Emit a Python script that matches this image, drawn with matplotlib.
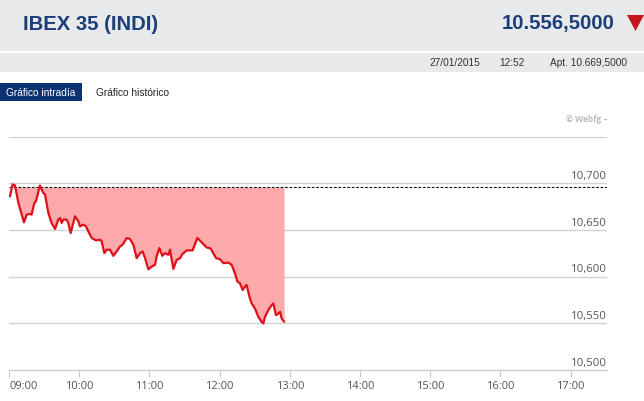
import matplotlib
matplotlib.use("Agg")
import matplotlib.pyplot as plt
import matplotlib.transforms as mtransforms
from matplotlib.patches import Rectangle, Polygon

# header data
title = "IBEX 35 (INDI)"
last_price = "10.556,5000"
date_str = "27/01/2015"
time_str = "12:52"
open_str = "Apt. 10.669,5000"

# intraday series: minutes after 09:00 and index level
minutes = [0.85, 3.1, 5.1, 8.0, 12.8, 15.1, 17.9, 19.3, 21.7, 23.1,
           26.4, 29.3, 30.8, 33.6, 36.4, 39.4, 42.1, 43.6, 45.0, 46.4,
           49.2, 50.7, 52.7, 56.4, 59.3, 60.7, 63.6, 65.8, 67.8, 70.7,
           74.4, 77.8, 79.2, 81.5, 83.5, 86.4, 89.2, 92.0, 94.9, 97.1,
           100.6, 103.4, 106.3, 109.1, 112.0, 114.2, 116.3, 119.1, 122.0, 124.8,
           126.2, 128.5, 131.0, 133.3, 136.2, 137.6, 140.5, 143.3, 146.2, 148.4,
           151.9, 156.9, 161.0, 164.7, 168.9, 172.4, 174.6, 177.0, 180.3, 183.2,
           187.5, 190.3, 193.1, 195.2, 197.4, 199.7, 201.7, 203.1, 205.5, 207.4,
           210.2, 213.1, 215.9, 217.4, 218.8, 221.6, 224.5, 225.9, 228.2, 230.2,
           231.7, 233.0, 235.1]
levels = [10686.4, 10699.0, 10697.8, 10679.2, 10658.3, 10666.6, 10667.3, 10666.6, 10679.2, 10681.0,
          10697.8, 10689.9, 10688.1, 10668.4, 10657.6, 10651.2, 10661.2, 10663.0, 10657.6, 10661.2,
          10661.2, 10657.6, 10646.8, 10664.8, 10659.4, 10654.0, 10655.8, 10654.0, 10648.6, 10641.5,
          10638.9, 10639.7, 10637.9, 10625.3, 10628.9, 10628.9, 10622.4, 10627.1, 10632.5, 10634.3,
          10641.5, 10640.4, 10634.3, 10619.9, 10625.3, 10627.1, 10619.9, 10608.0, 10610.9, 10612.7,
          10621.7, 10630.7, 10622.4, 10625.3, 10623.5, 10628.9, 10608.4, 10618.1, 10619.9, 10624.6,
          10628.2, 10628.2, 10641.5, 10636.8, 10631.4, 10630.3, 10625.3, 10619.9, 10618.8, 10614.5,
          10615.2, 10612.7, 10603.7, 10594.8, 10593.0, 10585.8, 10589.4, 10591.2, 10578.6, 10571.4,
          10566.0, 10557.0, 10551.6, 10549.9, 10557.0, 10564.2, 10569.6, 10571.4, 10558.8, 10560.6,
          10562.4, 10555.2, 10552.0]
ref_level = 10696

y_ticks = [10500, 10550, 10600, 10650, 10700]
y_grid = [10550, 10600, 10650, 10700, 10750]
x_ticks = [0, 60, 120, 180, 240, 300, 360, 420, 480]
x_labels = ["09:00", "10:00", "11:00", "12:00", "13:00", "14:00", "15:00", "16:00", "17:00"]

W, H = 644, 401
fig = plt.figure(figsize=(W / 100, H / 100), dpi=100)
fig.patch.set_facecolor("white")


def fx(px):
    return px / W


def fy(py):
    return 1 - py / H


# header bands
fig.patches.append(Rectangle((0, fy(51)), 1, 51 / H, transform=fig.transFigure,
                             facecolor="#e8e9ea", edgecolor="none", zorder=0))
fig.patches.append(Rectangle((0, fy(72)), 1, 19 / H, transform=fig.transFigure,
                             facecolor="#e8e9ea", edgecolor="none", zorder=0))
fig.patches.append(Rectangle((0, fy(101)), fx(82), 18 / H, transform=fig.transFigure,
                             facecolor="#0e3172", edgecolor="none", zorder=0))
fig.patches.append(Polygon([(fx(627), fy(15)), (fx(644), fy(15)), (fx(635.5), fy(31))],
                           closed=True, transform=fig.transFigure,
                           facecolor="#c4161c", edgecolor="none"))

navy = "#1b3d7a"
fig.text(fx(23), fy(24), title, fontsize=14.6, fontweight="bold", color=navy,
         family="Liberation Sans", ha="left", va="center")
fig.text(fx(615), fy(24), last_price, fontsize=14.6, fontweight="bold", color=navy,
         family="Liberation Sans", ha="right", va="center")
small = dict(fontsize=7.3, color="#333333", family="Liberation Sans", va="center")
fig.text(fx(429), fy(63), date_str, ha="left", **small)
fig.text(fx(499), fy(63), time_str, ha="left", **small)
fig.text(fx(627), fy(63), open_str, ha="right", **small)
fig.text(fx(41), fy(92.5), "Gráfico intradía", fontsize=7.3, color="white",
         family="Liberation Sans", ha="center", va="center")
fig.text(fx(96), fy(92.5), "Gráfico histórico", fontsize=7.3, color="#222222",
         family="Liberation Sans", ha="left", va="center")
fig.text(fx(607), fy(120), "© Webfg –", fontsize=6, color="#bbbbbb", fontweight="bold",
         family="Open Sans", ha="right", va="center")

# chart
ax = fig.add_axes([fx(9), fy(370), fx(607 - 9), (370 - 136.8) / H])
ax.set_xlim(0, 598 / 70.2 * 60)
ax.set_ylim(10500, 10750)
for s in ["top", "right", "left"]:
    ax.spines[s].set_visible(False)
ax.spines["bottom"].set_color("#c3ccd6")
ax.spines["bottom"].set_linewidth(1)

for g in y_grid:
    ax.axhline(g, color="#d2d2d2", lw=1, zorder=1)

ax.fill_between(minutes, levels, ref_level, color="#ffaaaa", lw=0, zorder=2)
ax.axhline(ref_level, color="#111111", lw=0.8, ls=(0, (2.5, 1.5)), zorder=3)
ax.plot(minutes, levels, color="#e0101a", lw=1.6, zorder=4, solid_joinstyle="round")

ax.set_yticks([])
ax.set_xticks(x_ticks)
ax.set_xticklabels(x_labels, family="Open Sans", fontsize=8, color="#555555")
ax.get_xticklabels()[0].set_horizontalalignment("left")
ax.tick_params(axis="x", direction="out", length=5, width=0.8, color="#c3ccd6", pad=3)

trans = mtransforms.blended_transform_factory(ax.transAxes, ax.transData)
for v in y_ticks:
    ax.text(1.0, v + 1.5, f"{v:,}", transform=trans, ha="right", va="bottom",
            fontsize=8.2, color="#555555", family="Open Sans")

fig.savefig("out.png", dpi=100)
